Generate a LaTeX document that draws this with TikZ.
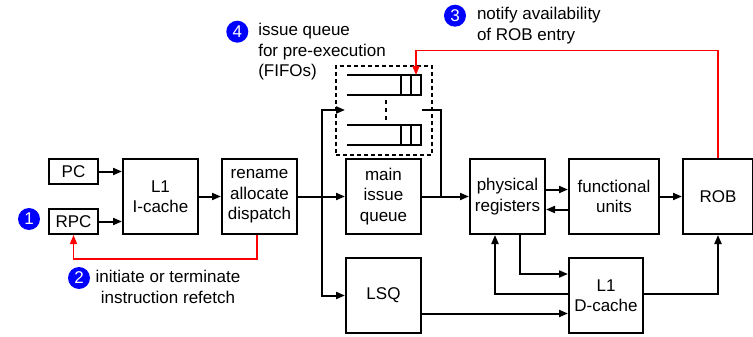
\documentclass[tikz,border=0pt]{standalone}
\usepackage{fontspec}
\setmainfont{Liberation Sans}
\usetikzlibrary{arrows.meta}
\tikzset{
	unit/.style = {draw, minimum width=75, minimum height=75, align=center, inner sep=0pt},
	badge/.style = {circle, fill=blue, text=white, minimum size=22, inner sep=0pt},
	note/.style = {align=left, inner sep=0pt, anchor=west},
}
\begin{document}
\begin{tikzpicture} [x = 1pt, y = -1pt, line width = 2pt, >={Triangle[length=9pt, width=7pt]}, font = \fontsize{17}{20.5}\selectfont]
	\useasboundingbox (0,0) rectangle (753,337);
	\node [unit, minimum width = 49, minimum height = 25] (PC) at (73.5,171.5) {PC};
	\node [unit, minimum width = 49, minimum height = 25] (RPC) at (73.5,221.5) {RPC};
	\node [unit] (icache) at (160.5,196.5) {L1\\I-cache};
	\node [unit] (rename) at (259.5,196.5) {rename\\allocate\\dispatch};
	\node [unit] (miq) at (383.5,196.5) {main\\issue\\queue};
	\node [unit] (lsq) at (383.5,295.5) {LSQ};
	\node [unit] (regs) at (507.5,196.5) {physical\\registers};
	\node [unit, minimum width = 90] (fu) at (614,196.5) {functional\\units};
	\node [unit, minimum width = 70] (rob) at (718,196.5) {ROB};
	\node [unit, minimum width = 74] (dcache) at (606,295.5) {L1\\D-cache};
	% FIFOs for pre-execution
	\node [draw, dash pattern = on 4pt off 3pt, minimum width = 96, minimum height = 89] (fifos) at (384,110.5) {};
	\foreach \y in {75,125} {
		\draw (347,\y) -- (421,\y) -- (421,\y+20) -- (347,\y+20);
		\draw (401,\y) -- (401,\y+20) (411,\y) -- (411,\y+20);
	}
	\draw [dash pattern = on 4pt off 4pt] (386,100) -- (386,120);
	\coordinate (slot) at (416,75);
	\coordinate (split) at (322,196.5);
	\coordinate (fifoin) at (345,110);
	\coordinate (fifoout) at (422,110);
	\coordinate (merge) at (441,196.5);
	% datapath
	\draw [->] (PC.east) -- (PC.east -| icache.west);
	\draw [->] (RPC.east) -- (RPC.east -| icache.west);
	\draw [->] (icache) -- (rename);
	\draw [->] (rename) -- (miq);
	\draw [->] (split) |- (fifoin);
	\draw [->] (split) |- (lsq.west);
	\draw (fifoout) -| (merge);
	\draw [->] (miq) -- (regs);
	\draw [->] ([yshift=7]regs.east) -- ([yshift=7]regs.east -| fu.west);
	\draw [->] ([yshift=-13]fu.west) -- ([yshift=-13]fu.west -| regs.east);
	\draw [->] (fu) -- (rob);
	\draw [->] ([xshift=12.5]regs.south) |- ([yshift=21.5]dcache.west);
	\draw [->] ([yshift=2]dcache.west) -| ([xshift=-12.5]regs.south);
	\draw [->] ([yshift=2]dcache.east) -| (rob.south);
	\draw [->] ([yshift=-18]lsq.east) -- ([yshift=-18]lsq.east -| dcache.west);
	% refetch and ROB notification
	\draw [red, line width = 1.5pt, ->] ([xshift=-2.5]rename.south) -- ++(0,24) -| (RPC.south);
	\draw [red, line width = 1.5pt, ->] (rob.north) |- ([yshift=24.5]slot) -- (slot);
	\node [badge] (b1) at (29,219) {1};
	\node [badge] (b2) at (79,278) {2};
	\node [badge] (b3) at (455,15.7) {3};
	\node [badge] (b4) at (237.3,31.7) {4};
	\node [align = center, inner sep = 0pt] (t2) at (168,287) {initiate or terminate\\instruction refetch};
	\node [note] (t3) at (476,25.7) {notify availability\\of ROB entry};
	\node [note] (t4) at (257.3,52) {issue queue\\for pre-execution\\(FIFOs)};
\end{tikzpicture}
\end{document}
